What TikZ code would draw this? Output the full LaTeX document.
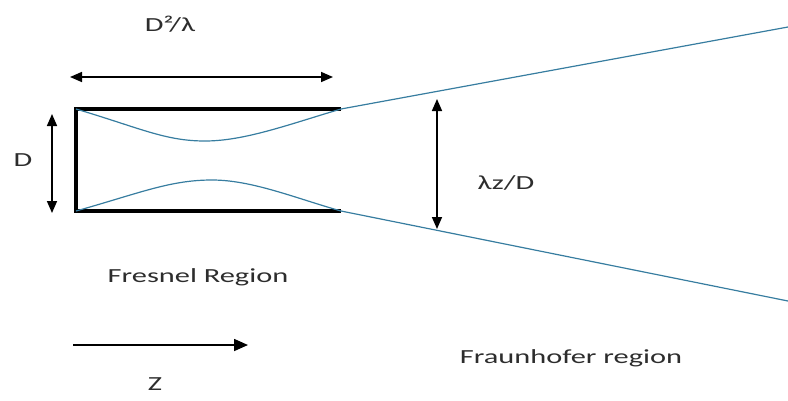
\documentclass[tikz,border=0pt]{standalone}
\usepackage{fontspec}
\setmainfont{Carlito}
\newfontfamily\lbl[FakeStretch=1.52]{Carlito}
\usetikzlibrary{arrows.meta}
\definecolor{txt}{RGB}{45,45,45}
\definecolor{beam}{RGB}{55,125,160}
\tikzset{
  lab/.style={font=\lbl\fontsize{20}{24}\selectfont, text=txt, inner sep=0pt},
  dim/.style={line width=1.6pt, {Triangle[length=12pt,width=10pt]}-{Triangle[length=12pt,width=10pt]}},
  onearrow/.style={line width=1.6pt, -{Triangle[length=14pt,width=12pt]}},
  boxline/.style={line width=3.5pt},
  beamline/.style={line width=1.2pt, draw=beam}
}
\begin{document}
\begin{tikzpicture}[x=1pt,y=-1pt]
\useasboundingbox (0,0) rectangle (788,400);
% coordinates
\coordinate (tl) at (76,109);
\coordinate (tr) at (341,109);
\coordinate (bl) at (76,211);
\coordinate (br) at (341,211);
\coordinate (utop) at (788,27);
\coordinate (ubot) at (788,301);
\coordinate (wa) at (70,77);
\coordinate (wb) at (333,77);
\coordinate (da) at (52,114);
\coordinate (db) at (52,213);
\coordinate (fa) at (437,99);
\coordinate (fb) at (437,229);
\coordinate (za) at (73,345);
\coordinate (zb) at (248,345);
% box
\draw[boxline] (tr) -- (tl) -- (bl) -- (br);
% Fresnel curves
\draw[beamline] (tl) .. controls (140,128) and (165,141) .. (205,141)
                     .. controls (245,141) and (290,124) .. (tr);
\draw[beamline] (bl) .. controls (140,193) and (170,180) .. (212,180)
                     .. controls (252,180) and (295,198) .. (br);
% Fraunhofer beams
\draw[beamline] (tr) -- (utop);
\draw[beamline] (br) -- (ubot);
% dimension arrows
\draw[dim] (wa) -- (wb);
\draw[dim] (da) -- (db);
\draw[dim] (fa) -- (fb);
\draw[onearrow] (za) -- (zb);
% labels
\node[lab] (lw) at (170,24) {D²/λ};
\node[lab] (ld) at (23,160) {D};
\node[lab] (lf) at (506,183) {λz/D};
\node[lab] (lfr) at (198,277) {Fresnel Region};
\node[lab] (lfh) at (571,358) {Fraunhofer region};
\node[lab] (lz) at (155,384) {Z};
\end{tikzpicture}
\end{document}
